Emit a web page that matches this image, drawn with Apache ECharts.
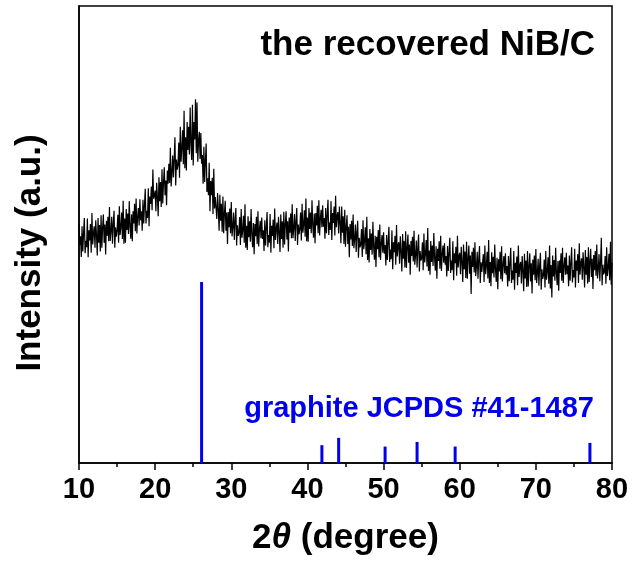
<!DOCTYPE html>
<html>
<head>
<meta charset="utf-8">
<script src="https://cdn.jsdelivr.net/npm/echarts@6/dist/echarts.min.js"></script>
<style>
  html, body { margin: 0; padding: 0; background: #fff; }
  #main { width: 636px; height: 577px; }
</style>
</head>
<body>
<div id="main"></div>
<script>
// XRD pattern, 2theta from 10 to 80 in 0.1 deg steps (one row = one degree)
const startAngle = 10
const stepAngle = 0.1
const intensity = [
  52.4, 47.7, 49.6, 45.1, 51.8, 46.3, 50.3, 53.6, 45.9, 48.6, // 10
  47.2, 53.5, 45.0, 50.9, 48.7, 52.3, 46.0, 54.7, 47.8, 50.3,
  51.8, 47.1, 53.1, 49.8, 45.4, 53.6, 48.2, 52.1, 46.3, 54.2,
  47.1, 51.6, 54.4, 48.2, 52.2, 45.6, 53.0, 49.7, 53.9, 48.5,
  56.0, 48.6, 50.7, 53.9, 48.0, 52.4, 55.2, 47.1, 51.6, 49.5,
  50.8, 54.3, 48.2, 56.2, 49.9, 51.7, 54.8, 49.0, 57.4, 48.0, // 15
  53.5, 48.2, 55.6, 51.0, 54.6, 50.1, 57.3, 51.8, 49.1, 54.4,
  48.5, 55.1, 52.4, 56.7, 50.7, 57.9, 50.2, 53.9, 55.8, 52.0,
  57.7, 53.1, 55.1, 50.8, 57.6, 52.4, 56.5, 60.0, 52.4, 55.2,
  53.6, 60.1, 51.8, 58.3, 56.7, 60.5, 55.3, 64.2, 57.8, 58.5,
  59.6, 55.1, 61.3, 58.2, 54.0, 62.5, 57.3, 61.5, 56.0, 64.3, // 20
  56.8, 61.6, 64.7, 58.6, 61.8, 56.4, 64.0, 61.1, 65.5, 61.3,
  69.0, 60.5, 63.3, 67.3, 62.5, 66.6, 71.3, 60.7, 66.4, 64.2,
  65.2, 70.1, 62.4, 73.6, 65.9, 68.9, 72.8, 65.4, 77.1, 64.5,
  71.3, 64.0, 74.6, 68.5, 73.6, 67.5, 77.8, 69.9, 66.3, 78.4,
  65.1, 74.6, 70.8, 79.6, 67.8, 78.9, 65.9, 70.5, 72.5, 66.5, // 25
  72.2, 65.5, 67.4, 61.1, 69.2, 61.5, 66.1, 69.9, 59.3, 62.3,
  58.6, 65.7, 55.1, 61.7, 58.6, 62.4, 54.5, 64.4, 55.7, 58.2,
  58.4, 53.4, 59.1, 55.5, 50.8, 58.7, 53.0, 56.7, 50.6, 58.3,
  50.3, 54.6, 57.4, 50.8, 54.8, 47.9, 54.9, 51.6, 55.7, 50.3,
  57.1, 49.6, 51.7, 54.8, 48.8, 53.1, 55.8, 47.6, 52.0, 49.7, // 30
  50.3, 53.8, 47.7, 55.6, 49.3, 51.0, 54.1, 48.2, 56.6, 47.1,
  51.9, 46.6, 54.0, 49.4, 52.9, 48.4, 55.6, 50.0, 47.2, 52.5,
  45.7, 52.3, 49.6, 53.9, 47.9, 55.1, 47.4, 51.1, 53.0, 49.2,
  53.7, 49.0, 50.9, 46.4, 53.1, 47.6, 51.6, 54.9, 47.2, 49.9,
  48.2, 54.5, 46.0, 51.9, 49.7, 53.3, 47.0, 55.7, 48.8, 51.3, // 35
  52.6, 47.9, 53.9, 50.6, 46.2, 54.4, 49.0, 52.9, 47.1, 55.0,
  47.8, 52.3, 55.1, 48.9, 52.9, 46.3, 53.7, 50.4, 54.6, 49.2,
  56.6, 49.2, 51.3, 54.5, 48.6, 53.0, 55.8, 47.7, 52.2, 50.1,
  51.3, 54.8, 48.7, 56.7, 50.4, 52.2, 55.3, 49.5, 57.9, 48.5,
  53.7, 48.4, 55.8, 51.2, 54.8, 50.3, 57.5, 52.0, 49.3, 54.6, // 40
  48.1, 54.7, 52.0, 56.3, 50.3, 57.5, 49.8, 53.5, 55.4, 51.6,
  56.4, 51.7, 53.6, 49.1, 55.8, 50.3, 54.3, 57.6, 49.9, 52.6,
  51.0, 57.3, 48.8, 54.7, 52.5, 56.1, 49.8, 58.5, 51.6, 54.1,
  54.9, 50.2, 56.1, 52.7, 48.1, 56.1, 50.4, 54.0, 47.9, 55.4,
  47.3, 51.6, 54.2, 47.9, 51.7, 45.0, 52.3, 48.9, 53.0, 47.5, // 45
  54.4, 47.0, 49.0, 52.2, 46.2, 50.3, 53.0, 44.9, 49.3, 47.2,
  47.8, 51.2, 45.1, 53.1, 46.8, 48.6, 51.6, 45.7, 53.9, 44.4,
  49.2, 43.9, 51.2, 46.6, 50.2, 45.6, 52.8, 47.2, 44.5, 49.7,
  42.9, 49.5, 46.8, 51.0, 45.0, 52.2, 44.4, 48.0, 49.9, 46.0,
  50.5, 45.8, 47.7, 43.2, 49.9, 44.4, 48.4, 51.7, 44.0, 46.7, // 50
  44.6, 50.9, 42.4, 48.3, 46.1, 49.7, 43.4, 52.1, 45.2, 47.7,
  48.3, 43.6, 49.6, 46.3, 41.9, 50.1, 44.7, 48.6, 42.8, 50.7,
  42.7, 47.2, 50.0, 43.8, 47.8, 41.2, 48.6, 45.3, 49.5, 44.1,
  50.8, 43.4, 45.5, 48.7, 42.8, 47.2, 50.0, 41.9, 46.4, 44.3,
  44.8, 48.3, 42.2, 50.2, 43.9, 45.7, 48.8, 43.0, 51.4, 42.0, // 55
  46.5, 41.2, 48.6, 44.0, 47.6, 43.1, 50.3, 44.8, 42.1, 47.4,
  40.3, 46.9, 44.2, 48.5, 42.5, 49.7, 42.0, 45.7, 47.6, 43.8,
  48.1, 43.4, 45.3, 40.8, 47.5, 42.0, 46.0, 49.3, 41.6, 44.3,
  42.2, 48.5, 40.0, 45.9, 43.7, 47.3, 41.0, 49.7, 42.8, 45.3,
  46.0, 41.3, 47.3, 44.0, 39.6, 47.8, 42.4, 46.3, 40.5, 48.4, // 60
  40.3, 44.8, 47.6, 41.4, 45.4, 37.0, 46.2, 42.9, 47.1, 41.7,
  48.3, 40.9, 43.0, 46.2, 40.3, 44.7, 47.5, 39.4, 43.9, 41.8,
  42.2, 45.7, 39.6, 47.6, 41.3, 43.1, 46.2, 40.4, 48.8, 39.4,
  44.0, 38.7, 46.1, 41.5, 45.1, 40.6, 47.8, 42.3, 39.6, 44.9,
  38.0, 44.6, 41.9, 46.2, 40.2, 47.4, 39.7, 43.4, 45.3, 41.5, // 65
  45.9, 41.2, 43.1, 38.6, 45.3, 39.8, 43.8, 47.1, 39.4, 42.1,
  40.1, 46.4, 37.9, 43.8, 41.6, 45.2, 38.9, 47.6, 40.7, 43.2,
  44.0, 39.3, 45.3, 42.0, 37.6, 45.8, 40.4, 44.3, 38.5, 46.4,
  38.6, 43.1, 45.9, 39.7, 43.7, 37.1, 44.5, 41.2, 45.4, 40.0,
  46.8, 39.4, 41.5, 44.7, 38.8, 43.2, 46.0, 37.9, 42.4, 40.3, // 70
  41.0, 44.5, 38.4, 46.4, 40.1, 41.9, 45.0, 39.2, 47.6, 38.2,
  43.3, 36.2, 45.4, 40.8, 44.4, 39.9, 47.1, 41.6, 38.9, 44.2,
  37.7, 44.3, 41.6, 45.9, 39.9, 47.1, 39.4, 43.1, 45.0, 41.2,
  46.0, 41.3, 43.2, 38.7, 45.4, 39.9, 43.9, 47.2, 39.5, 42.2,
  40.6, 46.9, 38.4, 44.3, 42.1, 45.7, 39.4, 48.1, 41.2, 43.7, // 75
  44.8, 40.1, 46.1, 42.8, 38.4, 46.6, 41.2, 45.1, 39.3, 47.2,
  39.6, 44.1, 46.9, 40.7, 44.7, 38.1, 45.5, 42.2, 46.4, 41.0,
  47.8, 40.4, 42.5, 45.7, 39.8, 44.2, 49.3, 38.9, 43.4, 41.3,
  41.8, 45.3, 39.2, 47.2, 40.9, 42.7, 45.8, 40.0, 48.4, 39.0,
  43.8                                                        // 80
]

// graphite JCPDS #41-1487 reference lines
const refAngles = [26.1, 41.9, 44.1, 50.2, 54.4, 59.4, 77.1]
const refHeights = [39.6, 3.9, 5.5, 3.6, 4.6, 3.6, 4.4]

const xTicks = [10, 20, 30, 40, 50, 60, 70, 80]

const FONT = '"Liberation Sans", Arial, sans-serif'

const pattern = intensity.map((v, i) => [+(startAngle + i * stepAngle).toFixed(1), v])
const refData = refAngles.map((a, i) => [a, refHeights[i]])

const chart = echarts.init(document.getElementById('main'))

chart.setOption({
  animation: false,
  backgroundColor: '#fff',
  title: [{
    text: 'the recovered NiB/C',
    right: 36,
    top: 23,
    textStyle: { fontFamily: FONT, fontWeight: 'bold', fontSize: 35, color: '#000' }
  }, {
    text: 'graphite JCPDS #41-1487',
    right: 37,
    top: 389,
    textStyle: { fontFamily: FONT, fontWeight: 'bold', fontSize: 29, color: '#0000ee' }
  }],
  graphic: [{
    type: 'text',
    x: 30,
    y: 253,
    rotation: Math.PI / 2,
    style: {
      text: 'Intensity (a.u.)',
      font: 'bold 35px "Liberation Sans", Arial, sans-serif',
      fill: '#000',
      align: 'center',
      verticalAlign: 'middle'
    }
  }],
  grid: {
    left: 79,
    right: 24,
    top: 6,
    bottom: 114,
    show: true,
    borderColor: '#000',
    borderWidth: 1.5
  },
  xAxis: {
    type: 'value',
    min: 10,
    max: 80,
    interval: 10,
    name: '{n|2}{t|θ}{n| (degree)}',
    nameLocation: 'middle',
    nameGap: 58,
    nameTextStyle: {
      rich: {
        n: { fontFamily: FONT, fontWeight: 'bold', fontSize: 35, color: '#000' },
        t: { fontFamily: FONT, fontWeight: 'bold', fontStyle: 'italic', fontSize: 35, color: '#000' }
      }
    },
    axisLine: { lineStyle: { color: '#000', width: 1.5 } },
    axisTick: { inside: false, length: 7, lineStyle: { color: '#000', width: 1.5 } },
    minorTick: { show: true, splitNumber: 2, length: 4, lineStyle: { color: '#000', width: 1.5 } },
    splitLine: { show: false },
    axisLabel: {
      fontFamily: FONT, fontWeight: 'bold', fontSize: 29, color: '#000', margin: 12,
      formatter: v => (xTicks.indexOf(v) >= 0 ? String(v) : '')
    }
  },
  yAxis: {
    type: 'value',
    min: 0,
    max: 100,
    axisLine: { show: true, lineStyle: { color: '#000', width: 1.5 } },
    axisTick: { show: false },
    axisLabel: { show: false },
    splitLine: { show: false }
  },
  series: [{
    type: 'line',
    data: pattern,
    showSymbol: false,
    lineStyle: { color: '#000', width: 1.2 },
    z: 3
  }, {
    type: 'bar',
    data: refData,
    barWidth: 3,
    itemStyle: { color: '#0000ee' },
    z: 2
  }]
})
</script>
</body>
</html>
